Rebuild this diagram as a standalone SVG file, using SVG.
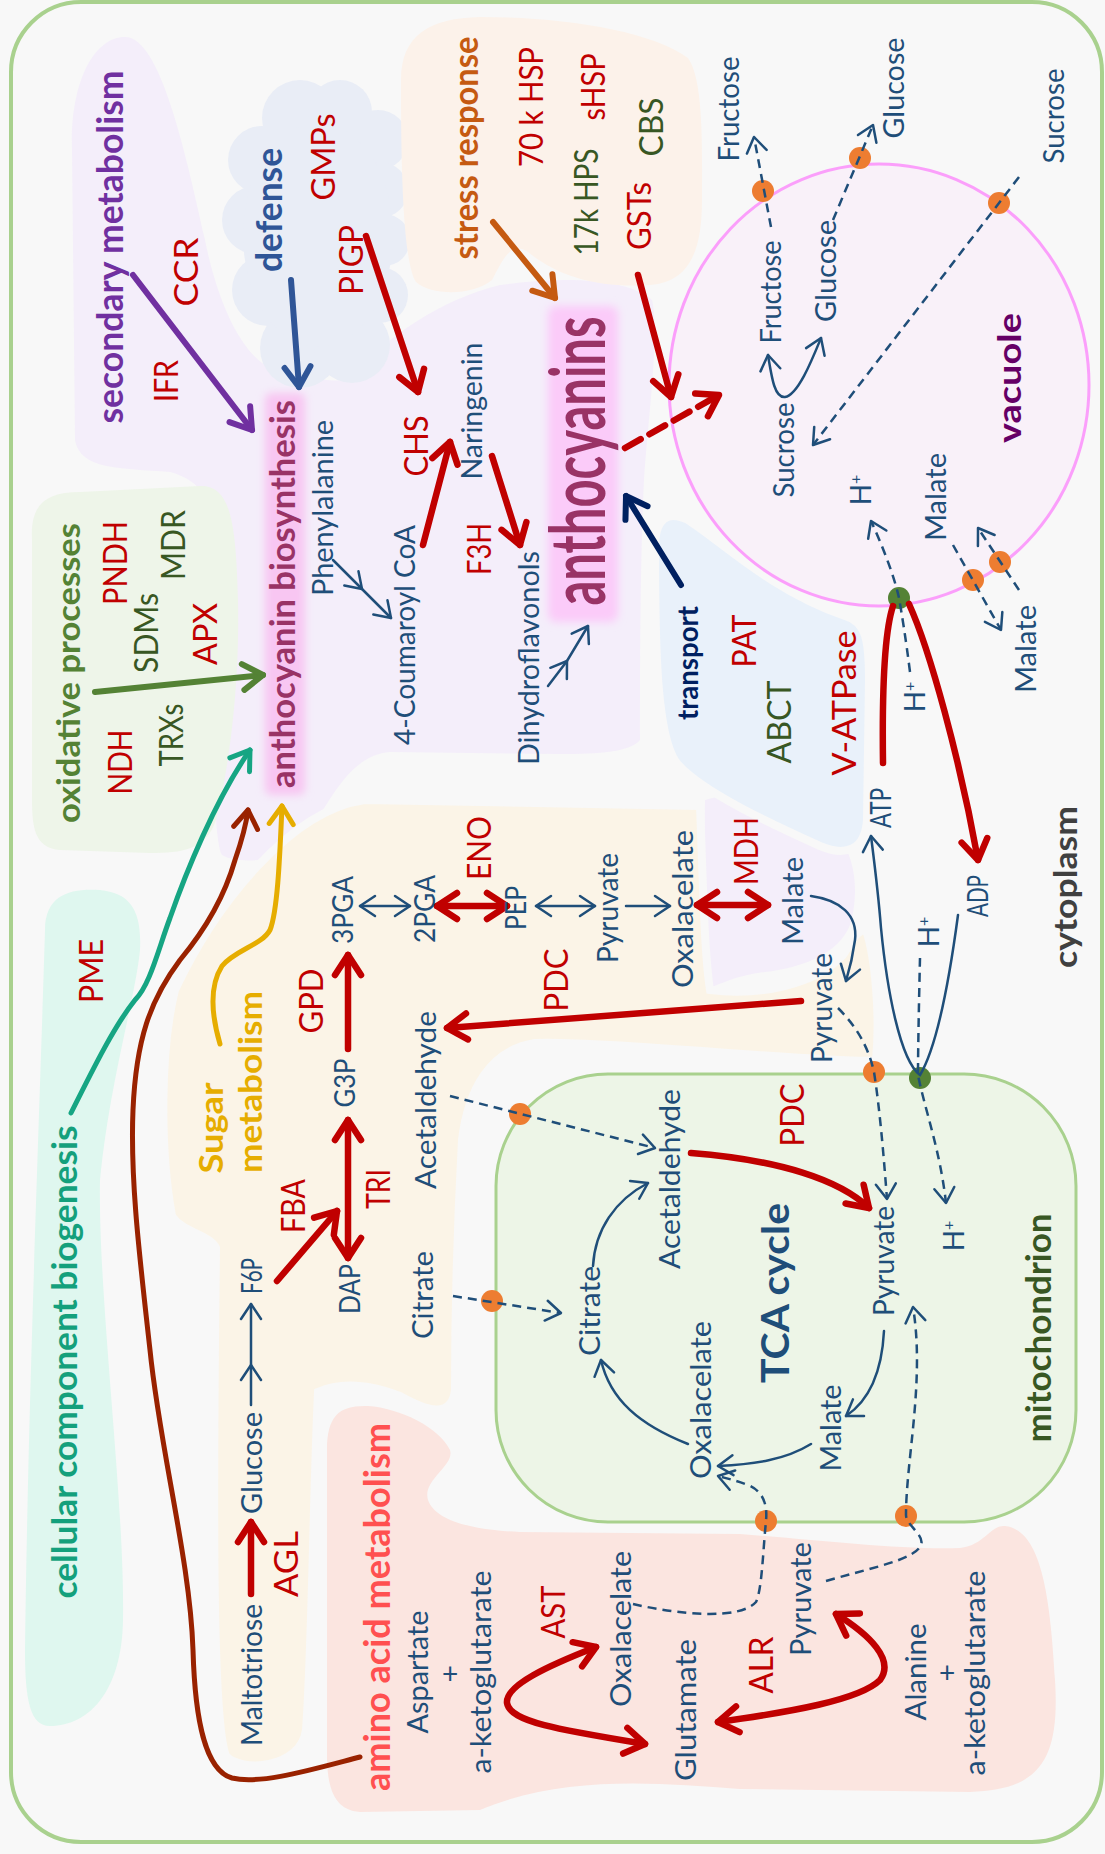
<svg xmlns="http://www.w3.org/2000/svg" width="1105" height="1854" viewBox="0 0 1105 1854">
<defs>
<style>
.t{font-family:Lato,'Liberation Sans','DejaVu Sans',sans-serif;text-anchor:middle}
.lb{fill:#1f4e79;font-size:28px}
.rd{fill:#c00000;font-size:32px}
.gr{fill:#385723;font-size:32px}
.bd{font-weight:700}
.cb{fill:none;stroke:#1f4e79;stroke-width:2.5;stroke-linecap:round}
.cd{fill:none;stroke:#1f4e79;stroke-width:2.5;stroke-dasharray:9 6}
.cr{fill:none;stroke:#c00000;stroke-width:6.5;stroke-linecap:round}
.gap{stroke:#f8f8f8;stroke-width:8}
</style>
<filter id="glow" x="-30%" y="-10%" width="160%" height="120%"><feGaussianBlur stdDeviation="4"/></filter>
<marker id="mR" viewBox="-28 -20 34 40" refX="0" refY="0" markerWidth="34" markerHeight="40" markerUnits="userSpaceOnUse" orient="auto-start-reverse"><path d="M-20 -13 L0 0 L-20 13" fill="none" stroke="#c00000" stroke-width="6.5" stroke-linecap="round" stroke-linejoin="round"/></marker>
<marker id="mP" viewBox="-28 -20 34 40" refX="0" refY="0" markerWidth="34" markerHeight="40" markerUnits="userSpaceOnUse" orient="auto-start-reverse"><path d="M-20 -13 L0 0 L-20 13" fill="none" stroke="#7030a0" stroke-width="6" stroke-linecap="round" stroke-linejoin="round"/></marker>
<marker id="mN" viewBox="-28 -20 34 40" refX="0" refY="0" markerWidth="34" markerHeight="40" markerUnits="userSpaceOnUse" orient="auto-start-reverse"><path d="M-20 -13 L0 0 L-20 13" fill="none" stroke="#002060" stroke-width="6" stroke-linecap="round" stroke-linejoin="round"/></marker>
<marker id="mD" viewBox="-28 -20 34 40" refX="0" refY="0" markerWidth="34" markerHeight="40" markerUnits="userSpaceOnUse" orient="auto-start-reverse"><path d="M-20 -13 L0 0 L-20 13" fill="none" stroke="#2f5597" stroke-width="6" stroke-linecap="round" stroke-linejoin="round"/></marker>
<marker id="mG" viewBox="-28 -20 34 40" refX="0" refY="0" markerWidth="34" markerHeight="40" markerUnits="userSpaceOnUse" orient="auto-start-reverse"><path d="M-20 -13 L0 0 L-20 13" fill="none" stroke="#548235" stroke-width="6" stroke-linecap="round" stroke-linejoin="round"/></marker>
<marker id="mO" viewBox="-28 -20 34 40" refX="0" refY="0" markerWidth="34" markerHeight="40" markerUnits="userSpaceOnUse" orient="auto-start-reverse"><path d="M-20 -13 L0 0 L-20 13" fill="none" stroke="#c55a11" stroke-width="6" stroke-linecap="round" stroke-linejoin="round"/></marker>
<marker id="mT" viewBox="-28 -20 34 40" refX="0" refY="0" markerWidth="34" markerHeight="40" markerUnits="userSpaceOnUse" orient="auto-start-reverse"><path d="M-18 -12 L0 0 L-18 12" fill="none" stroke="#16a583" stroke-width="5" stroke-linecap="round" stroke-linejoin="round"/></marker>
<marker id="mBr" viewBox="-28 -20 34 40" refX="0" refY="0" markerWidth="34" markerHeight="40" markerUnits="userSpaceOnUse" orient="auto-start-reverse"><path d="M-18 -12 L0 0 L-18 12" fill="none" stroke="#992200" stroke-width="5" stroke-linecap="round" stroke-linejoin="round"/></marker>
<marker id="mY" viewBox="-28 -20 34 40" refX="0" refY="0" markerWidth="34" markerHeight="40" markerUnits="userSpaceOnUse" orient="auto-start-reverse"><path d="M-18 -12 L0 0 L-18 12" fill="none" stroke="#e6ad00" stroke-width="5" stroke-linecap="round" stroke-linejoin="round"/></marker>
<marker id="mB" viewBox="-20 -14 24 28" refX="0" refY="0" markerWidth="24" markerHeight="28" markerUnits="userSpaceOnUse" orient="auto-start-reverse"><path d="M-15 -10 L0 0 L-15 10" fill="none" stroke="#1f4e79" stroke-width="2.5" stroke-linecap="round" stroke-linejoin="round"/></marker>
</defs>

<rect width="1105" height="1854" fill="#f8f8f8"/>
<rect x="11" y="2" width="1091" height="1840" rx="70" fill="#f8f8f8" stroke="#a9d18e" stroke-width="4"/>

<g id="regions">
<path d="M72 150 C70 80 95 37 125 37 C160 37 185 150 205 240 C215 290 235 345 265 365 C300 378 330 382 345 380 C390 335 440 300 500 285 C570 275 630 280 652 300 C660 330 648 420 644 480 C640 560 640 680 640 740 C630 752 600 754 560 754 L390 752 C350 755 330 800 305 840 C290 860 240 866 222 855 C212 840 212 700 215 550 C216 500 200 480 170 472 C120 468 80 470 75 440 Z" fill="#f4eefa"/>
<path d="M705 800 C740 788 800 808 838 838 C858 858 858 900 850 925 C838 955 800 968 765 972 C738 975 718 985 710 988 C705 930 704 860 705 800 Z" fill="#f4eefa"/>
<g id="cloud" fill="#e9edf6">
<circle cx="300" cy="118" r="38"/><circle cx="340" cy="112" r="32"/><circle cx="378" cy="140" r="30"/>
<circle cx="262" cy="160" r="34"/><circle cx="256" cy="220" r="34"/><circle cx="268" cy="290" r="36"/>
<circle cx="300" cy="348" r="40"/><circle cx="352" cy="345" r="38"/><circle cx="380" cy="295" r="28"/>
<circle cx="384" cy="240" r="26"/><circle cx="380" cy="190" r="28"/>
<ellipse cx="318" cy="235" rx="75" ry="112"/>
</g>
<path d="M401 80 C401 35 430 18 480 17 C560 17 650 30 688 58 C704 80 702 150 702 200 C702 250 690 282 650 285 C600 288 560 278 528 252 C510 240 502 262 492 280 C472 296 432 296 416 282 C402 262 401 150 401 80 Z" fill="#fcf2ea"/>
<path d="M32 540 C30 505 45 492 80 492 L200 486 C230 485 236 520 238 600 C240 700 226 780 216 820 C206 850 182 853 150 853 L60 850 C36 848 32 830 32 800 Z" fill="#eef5e9"/>
<path d="M45 930 C45 895 70 888 100 890 C130 893 142 910 140 950 C135 1000 110 1080 100 1180 C98 1300 125 1500 123 1620 C122 1690 90 1726 50 1726 C30 1726 25 1700 25 1650 C28 1400 40 1100 45 930 Z" fill="#dff7ef"/>
<path class="gap" d="M175 990 C215 905 290 810 365 800 L700 806 C703 880 704 950 710 990 C760 996 815 985 843 955 C852 942 856 930 866 930 C876 960 880 1020 876 1060 C860 1066 600 1040 535 1043 C490 1050 468 1090 462 1140 C456 1250 455 1350 455 1390 C452 1420 425 1410 400 1396 C370 1384 340 1382 318 1392 C313 1500 312 1650 306 1730 C300 1770 240 1772 226 1756 C212 1720 213 1500 216 1248 C210 1235 182 1232 172 1216 C160 1150 160 1050 175 990 Z" fill="#fbf4e7"/>
<path class="gap" d="M655 548 C655 518 668 510 688 520 C720 540 770 590 845 616 C866 622 869 640 869 680 L867 820 C865 850 846 857 820 846 C780 828 700 792 676 762 C657 735 655 650 655 548 Z" fill="#e9f1fa"/>
<path d="M327 1450 C327 1415 340 1405 368 1406 C400 1408 440 1428 450 1450 C455 1466 422 1480 428 1500 C435 1520 470 1530 520 1532 L740 1534 C820 1540 900 1550 960 1548 C985 1545 990 1525 1005 1526 C1040 1530 1050 1590 1055 1680 C1060 1760 1040 1790 970 1792 L740 1789 C650 1782 560 1776 480 1810 L360 1812 C335 1810 328 1790 327 1760 Z" fill="#fbe5e0"/>
<ellipse id="vacuole-membrane" cx="879" cy="385" rx="210" ry="221" fill="#f9f1f9" stroke="#fb9ffb" stroke-width="3"/>
<rect id="mito-membrane" x="496" y="1074" width="580" height="448" rx="112" fill="#edf5e7" stroke="#a9d18e" stroke-width="3"/>
<rect x="265" y="393" width="40" height="402" rx="6" fill="#f8c6f2" filter="url(#glow)"/>
<rect x="548" y="306" width="70" height="316" rx="8" fill="#fbcbf9" filter="url(#glow)"/>
</g>

<g id="transporters">
<circle cx="763" cy="191" r="11" fill="#ed7d31"/>
<circle cx="860" cy="158" r="11" fill="#ed7d31"/>
<circle cx="999" cy="203" r="11" fill="#ed7d31"/>
<circle cx="973" cy="580" r="11" fill="#ed7d31"/>
<circle cx="1000" cy="562" r="11" fill="#ed7d31"/>
<circle cx="520" cy="1114" r="11" fill="#ed7d31"/>
<circle cx="492" cy="1301" r="11" fill="#ed7d31"/>
<circle cx="874" cy="1072" r="11" fill="#ed7d31"/>
<circle cx="766" cy="1521" r="11" fill="#ed7d31"/>
<circle cx="906" cy="1516" r="11" fill="#ed7d31"/>
<circle cx="899" cy="598" r="11" fill="#548235"/>
<circle cx="920" cy="1078" r="11" fill="#548235"/>
</g>

<g id="connectors">
<!-- red enzyme arrows -->
<path class="cr" d="M366 236 L418 392" marker-end="url(#mR)"/>
<path class="cr" d="M423 545 L450 442" marker-end="url(#mR)"/>
<path class="cr" d="M492 456 L520 545" marker-end="url(#mR)"/>
<path class="cr" d="M638 275 L671 397" marker-end="url(#mR)"/>
<path class="cr" d="M625 448 L719 395" stroke-dasharray="18 10" stroke-linecap="butt" marker-end="url(#mR)"/>
<path class="cr" d="M437 906 L507 906" marker-start="url(#mR)" marker-end="url(#mR)"/>
<path class="cr" d="M697 905 L768 905" marker-start="url(#mR)" marker-end="url(#mR)"/>
<path class="cr" d="M348 1049 L348 955" marker-end="url(#mR)"/>
<path class="cr" d="M348 1258 L348 1120" marker-start="url(#mR)" marker-end="url(#mR)"/>
<path class="cr" d="M277 1281 L337 1211" marker-end="url(#mR)"/>
<path class="cr" d="M801 1001 L447 1028" marker-end="url(#mR)"/>
<path class="cr" d="M691 1153 C780 1160 840 1180 869 1208" marker-end="url(#mR)"/>
<path class="cr" d="M251 1594 L251 1522" marker-end="url(#mR)"/>
<path class="cr" d="M596 1647 C550 1665 505 1685 507 1703 C510 1722 560 1730 645 1744" marker-start="url(#mR)" marker-end="url(#mR)"/>
<path class="cr" d="M718 1722 C790 1712 860 1700 880 1680 C895 1660 870 1635 836 1614" marker-start="url(#mR)" marker-end="url(#mR)"/>
<path class="cr" d="M883 763 C882 690 885 630 893 606"/>
<path class="cr" d="M909 604 C930 650 960 760 978 860" marker-end="url(#mR)"/>
<!-- category arrows -->
<path d="M493 222 L555 298" fill="none" stroke="#c55a11" stroke-width="6" stroke-linecap="round" marker-end="url(#mO)"/>
<path d="M291 280 L299 387" fill="none" stroke="#2f5597" stroke-width="6" stroke-linecap="round" marker-end="url(#mD)"/>
<path d="M133 275 L252 430" fill="none" stroke="#7030a0" stroke-width="6" stroke-linecap="round" marker-end="url(#mP)"/>
<path d="M95 692 L263 675" fill="none" stroke="#548235" stroke-width="6" stroke-linecap="round" marker-end="url(#mG)"/>
<path d="M681 585 L626 496" fill="none" stroke="#002060" stroke-width="6" stroke-linecap="round" marker-end="url(#mN)"/>
<path d="M71 1113 C95 1065 115 1025 135 1000 C150 985 158 950 170 918 C185 875 215 800 250 750" fill="none" stroke="#16a583" stroke-width="5" stroke-linecap="round" marker-end="url(#mT)"/>
<path d="M360 1757 C310 1770 260 1785 232 1778 C205 1770 195 1720 193 1650 C190 1560 160 1450 150 1350 C140 1260 130 1180 133 1110 C136 1040 150 1000 180 960 C205 930 225 895 235 860 C242 840 246 825 248 810" fill="none" stroke="#992200" stroke-width="5" stroke-linecap="round" marker-end="url(#mBr)"/>
<path d="M220 1044 C210 1010 210 985 222 966 C235 950 262 945 270 930 C278 910 280 850 282 806" fill="none" stroke="#e6ad00" stroke-width="5" stroke-linecap="round" marker-end="url(#mY)"/>
<!-- blue solid -->
<path class="cb" d="M333 560 L362 589 L391 618" marker-mid="url(#mB)" marker-end="url(#mB)"/>
<path class="cb" d="M548 686 L567 661 L588 626" marker-mid="url(#mB)" marker-end="url(#mB)"/>
<path class="cb" d="M360 906 L410 906" marker-start="url(#mB)" marker-end="url(#mB)"/>
<path class="cb" d="M536 906 L595 906" marker-start="url(#mB)" marker-end="url(#mB)"/>
<path class="cb" d="M626 906 L670 906" marker-end="url(#mB)"/>
<path class="cb" d="M251 1405 L251 1365 L251 1304" marker-mid="url(#mB)" marker-end="url(#mB)"/>
<path class="cb" d="M811 896 C840 900 858 915 855 940 C853 955 850 968 846 981" marker-end="url(#mB)"/>
<path class="cb" d="M958 915 C948 990 935 1050 920 1075 C900 1060 887 990 881 928 C878 890 874 860 871 836" marker-end="url(#mB)"/>
<path class="cb" d="M593 1266 C595 1230 615 1200 648 1183" marker-end="url(#mB)"/>
<path class="cb" d="M688 1444 C640 1425 610 1400 601 1360" marker-end="url(#mB)"/>
<path class="cb" d="M884 1331 C882 1370 870 1400 846 1416" marker-end="url(#mB)"/>
<path class="cb" d="M811 1444 C785 1460 755 1464 718 1466" marker-end="url(#mB)"/>
<path class="cb" d="M768 355 C772 380 775 398 785 397 C798 395 812 360 821 338" marker-start="url(#mB)" marker-end="url(#mB)"/>
<!-- blue dashed -->
<path class="cd" d="M771 227 L754 137" marker-end="url(#mB)"/>
<path class="cd" d="M833 220 L873 125" marker-end="url(#mB)"/>
<path class="cd" d="M1019 177 L813 445" marker-end="url(#mB)"/>
<path class="cd" d="M910 672 C906 640 902 615 899 598 C894 575 882 545 871 521" marker-end="url(#mB)"/>
<path class="cd" d="M1019 590 L978 528" marker-end="url(#mB)"/>
<path class="cd" d="M953 545 L1001 630" marker-end="url(#mB)"/>
<path class="cd" d="M450 1096 L655 1148" marker-end="url(#mB)"/>
<path class="cd" d="M453 1296 L561 1313" marker-end="url(#mB)"/>
<path class="cd" d="M838 1008 C855 1025 868 1045 874 1072 C880 1110 884 1160 887 1199" marker-end="url(#mB)"/>
<path class="cd" d="M920 958 C919 1000 918 1050 918 1075 C925 1110 940 1150 946 1203" marker-end="url(#mB)"/>
<path class="cd" d="M826 1581 C870 1568 915 1560 921 1545 C925 1535 906 1525 906 1515 C906 1460 925 1380 913 1307" marker-end="url(#mB)"/>
<path class="cd" d="M633 1604 C680 1615 740 1620 756 1602 C762 1590 763 1550 766 1521 C768 1500 760 1490 748 1485 C735 1480 725 1478 718 1476" marker-end="url(#mB)"/>
</g>

<!-- bold titles -->
<g id="n-secondary"><text class="t bd" fill="#7030a0" font-size="36" transform="translate(123 247) rotate(-90)" textLength="353" lengthAdjust="spacingAndGlyphs">secondary metabolism</text></g>
<g id="n-defense"><text class="t bd" fill="#2f5597" font-size="36" transform="translate(282 210) rotate(-90)" textLength="124" lengthAdjust="spacingAndGlyphs">defense</text></g>
<g id="n-stress"><text class="t bd" fill="#c55a11" font-size="34" transform="translate(478 148) rotate(-90)" textLength="223" lengthAdjust="spacingAndGlyphs">stress response</text></g>
<g id="n-oxidative"><text class="t bd" fill="#548235" font-size="32" transform="translate(80 673) rotate(-90)" textLength="300" lengthAdjust="spacingAndGlyphs">oxidative processes</text></g>
<g id="n-anthobio"><text class="t bd" fill="#993366" font-size="34" transform="translate(295 594) rotate(-90)" textLength="388" lengthAdjust="spacingAndGlyphs">anthocyanin biosynthesis</text></g>
<g id="n-anthocyanins"><text class="t bd" fill="#993366" font-size="76" transform="translate(605 461) rotate(-90)" textLength="289" lengthAdjust="spacingAndGlyphs">anthocyanins</text></g>
<g id="n-transport"><text class="t bd" fill="#002060" font-size="29" transform="translate(698 663) rotate(-90)" textLength="114" lengthAdjust="spacingAndGlyphs">transport</text></g>
<g id="n-vacuole"><text class="t bd" fill="#660066" font-size="32" transform="translate(1021 378) rotate(-90)" textLength="130" lengthAdjust="spacingAndGlyphs">vacuole</text></g>
<g id="n-cytoplasm"><text class="t bd" fill="#404040" font-size="33" transform="translate(1077 887) rotate(-90)" textLength="162" lengthAdjust="spacingAndGlyphs">cytoplasm</text></g>
<g id="n-tca"><text class="t bd" fill="#1f4e79" font-size="38" transform="translate(789 1293) rotate(-90)" textLength="180" lengthAdjust="spacingAndGlyphs">TCA cycle</text></g>
<g id="n-mito"><text class="t bd" fill="#385723" font-size="34" transform="translate(1051 1328) rotate(-90)" textLength="229" lengthAdjust="spacingAndGlyphs">mitochondrion</text></g>
<g id="n-sugar"><text class="t bd" fill="#e6ad00" font-size="33" transform="translate(223 1128) rotate(-90)" textLength="91" lengthAdjust="spacingAndGlyphs">Sugar</text><text class="t bd" fill="#e6ad00" font-size="32" transform="translate(262 1082) rotate(-90)" textLength="182" lengthAdjust="spacingAndGlyphs">metabolism</text></g>
<g id="n-cellular"><text class="t bd" fill="#14a07c" font-size="35" transform="translate(77 1362) rotate(-90)" textLength="473" lengthAdjust="spacingAndGlyphs">cellular component biogenesis</text></g>
<g id="n-amino"><text class="t bd" fill="#ff5050" font-size="36" transform="translate(390 1607) rotate(-90)" textLength="368" lengthAdjust="spacingAndGlyphs">amino acid metabolism</text></g>

<!-- red enzyme labels -->
<g id="n-ifr"><text class="t rd" transform="translate(178 381) rotate(-90)" textLength="42" lengthAdjust="spacingAndGlyphs">IFR</text></g>
<g id="n-ccr"><text class="t rd" transform="translate(198 272) rotate(-90)" textLength="69" lengthAdjust="spacingAndGlyphs">CCR</text></g>
<g id="n-gmps"><text class="t rd" transform="translate(335 157) rotate(-90)" textLength="87" lengthAdjust="spacingAndGlyphs">GMPs</text></g>
<g id="n-pigp"><text class="t rd" transform="translate(363 260) rotate(-90)" textLength="70" lengthAdjust="spacingAndGlyphs">PIGP</text></g>
<g id="n-hsp70"><text class="t rd" transform="translate(543 107) rotate(-90)" textLength="120" lengthAdjust="spacingAndGlyphs">70 k HSP</text></g>
<g id="n-shsp"><text class="t rd" transform="translate(605 87) rotate(-90)" textLength="67" lengthAdjust="spacingAndGlyphs">sHSP</text></g>
<g id="n-gsts"><text class="t rd" transform="translate(651 216) rotate(-90)" textLength="68" lengthAdjust="spacingAndGlyphs">GSTs</text></g>
<g id="n-chs"><text class="t rd" transform="translate(428 446) rotate(-90)" textLength="61" lengthAdjust="spacingAndGlyphs">CHS</text></g>
<g id="n-f3h"><text class="t rd" transform="translate(491 549) rotate(-90)" textLength="52" lengthAdjust="spacingAndGlyphs">F3H</text></g>
<g id="n-ndh"><text class="t rd" transform="translate(132 762) rotate(-90)" textLength="65" lengthAdjust="spacingAndGlyphs">NDH</text></g>
<g id="n-pndh"><text class="t rd" transform="translate(127 563) rotate(-90)" textLength="84" lengthAdjust="spacingAndGlyphs">PNDH</text></g>
<g id="n-apx"><text class="t rd" transform="translate(217 634) rotate(-90)" textLength="62" lengthAdjust="spacingAndGlyphs">APX</text></g>
<g id="n-pat"><text class="t rd" transform="translate(756 641) rotate(-90)" textLength="53" lengthAdjust="spacingAndGlyphs">PAT</text></g>
<g id="n-vatpase"><text class="t rd" transform="translate(856 703) rotate(-90)" textLength="145" lengthAdjust="spacingAndGlyphs">V-ATPase</text></g>
<g id="n-mdh"><text class="t rd" transform="translate(758 851) rotate(-90)" textLength="68" lengthAdjust="spacingAndGlyphs">MDH</text></g>
<g id="n-eno"><text class="t rd" transform="translate(491 848) rotate(-90)" textLength="64" lengthAdjust="spacingAndGlyphs">ENO</text></g>
<g id="n-pdc1"><text class="t rd" transform="translate(568 980) rotate(-90)" textLength="63" lengthAdjust="spacingAndGlyphs">PDC</text></g>
<g id="n-gpd"><text class="t rd" transform="translate(323 1001) rotate(-90)" textLength="65" lengthAdjust="spacingAndGlyphs">GPD</text></g>
<g id="n-fba"><text class="t rd" transform="translate(305 1206) rotate(-90)" textLength="54" lengthAdjust="spacingAndGlyphs">FBA</text></g>
<g id="n-tri"><text class="t rd" transform="translate(390 1189) rotate(-90)" textLength="40" lengthAdjust="spacingAndGlyphs">TRI</text></g>
<g id="n-pdc2"><text class="t rd" transform="translate(804 1115) rotate(-90)" textLength="63" lengthAdjust="spacingAndGlyphs">PDC</text></g>
<g id="n-pme"><text class="t rd" transform="translate(103 971) rotate(-90)" textLength="64" lengthAdjust="spacingAndGlyphs">PME</text></g>
<g id="n-agl"><text class="t rd" transform="translate(298 1564) rotate(-90)" textLength="66" lengthAdjust="spacingAndGlyphs">AGL</text></g>
<g id="n-ast"><text class="t rd" transform="translate(565 1612) rotate(-90)" textLength="53" lengthAdjust="spacingAndGlyphs">AST</text></g>
<g id="n-alr"><text class="t rd" transform="translate(773 1665) rotate(-90)" textLength="57" lengthAdjust="spacingAndGlyphs">ALR</text></g>

<!-- green protein labels -->
<g id="n-hps17"><text class="t gr" transform="translate(598 202) rotate(-90)" textLength="107" lengthAdjust="spacingAndGlyphs">17k HPS</text></g>
<g id="n-cbs"><text class="t gr" transform="translate(663 127) rotate(-90)" textLength="59" lengthAdjust="spacingAndGlyphs">CBS</text></g>
<g id="n-trxs"><text class="t gr" transform="translate(183 735) rotate(-90)" textLength="63" lengthAdjust="spacingAndGlyphs">TRXs</text></g>
<g id="n-sdms"><text class="t gr" transform="translate(158 633) rotate(-90)" textLength="80" lengthAdjust="spacingAndGlyphs">SDMs</text></g>
<g id="n-mdr"><text class="t gr" transform="translate(185 545) rotate(-90)" textLength="70" lengthAdjust="spacingAndGlyphs">MDR</text></g>
<g id="n-abct"><text class="t gr" transform="translate(791 722) rotate(-90)" textLength="83" lengthAdjust="spacingAndGlyphs">ABCT</text></g>

<!-- metabolites -->
<g id="n-fructose-top"><text class="t lb" transform="translate(739 109) rotate(-90)" textLength="105" lengthAdjust="spacingAndGlyphs">Fructose</text></g>
<g id="n-glucose-top"><text class="t lb" transform="translate(904 88) rotate(-90)" textLength="101" lengthAdjust="spacingAndGlyphs">Glucose</text></g>
<g id="n-sucrose-top"><text class="t lb" transform="translate(1064 116) rotate(-90)" textLength="95" lengthAdjust="spacingAndGlyphs">Sucrose</text></g>
<g id="n-fructose-vac"><text class="t lb" transform="translate(781 292) rotate(-90)" textLength="103" lengthAdjust="spacingAndGlyphs">Fructose</text></g>
<g id="n-glucose-vac"><text class="t lb" transform="translate(836 271) rotate(-90)" textLength="102" lengthAdjust="spacingAndGlyphs">Glucose</text></g>
<g id="n-sucrose-vac"><text class="t lb" transform="translate(794 450) rotate(-90)" textLength="95" lengthAdjust="spacingAndGlyphs">Sucrose</text></g>
<g id="n-hplus-vac"><text class="t lb" font-size="25" transform="translate(871 490) rotate(-90)">H<tspan font-size="16" dy="-10">+</tspan></text></g>
<g id="n-malate-vac"><text class="t lb" transform="translate(946 497) rotate(-90)" textLength="88" lengthAdjust="spacingAndGlyphs">Malate</text></g>
<g id="n-malate-out"><text class="t lb" transform="translate(1036 649) rotate(-90)" textLength="88" lengthAdjust="spacingAndGlyphs">Malate</text></g>
<g id="n-hplus-cyt1"><text class="t lb" font-size="25" transform="translate(925 697) rotate(-90)">H<tspan font-size="16" dy="-10">+</tspan></text></g>
<g id="n-atp"><text class="t lb" font-size="24" transform="translate(891 808) rotate(-90)" textLength="40" lengthAdjust="spacingAndGlyphs">ATP</text></g>
<g id="n-adp"><text class="t lb" font-size="25" transform="translate(988 896) rotate(-90)" textLength="42" lengthAdjust="spacingAndGlyphs">ADP</text></g>
<g id="n-malate-cyt"><text class="t lb" transform="translate(803 901) rotate(-90)" textLength="88" lengthAdjust="spacingAndGlyphs">Malate</text></g>
<g id="n-phenylalanine"><text class="t lb" transform="translate(333 508) rotate(-90)" textLength="176" lengthAdjust="spacingAndGlyphs">Phenylalanine</text></g>
<g id="n-coumaroyl"><text class="t lb" transform="translate(415 635) rotate(-90)" textLength="220" lengthAdjust="spacingAndGlyphs">4-Coumaroyl CoA</text></g>
<g id="n-naringenin"><text class="t lb" transform="translate(482 411) rotate(-90)" textLength="137" lengthAdjust="spacingAndGlyphs">Naringenin</text></g>
<g id="n-dihydroflavonols"><text class="t lb" transform="translate(539 658) rotate(-90)" textLength="214" lengthAdjust="spacingAndGlyphs">Dihydroflavonols</text></g>
<g id="n-3pga"><text class="t lb" font-size="27" transform="translate(353 910) rotate(-90)" textLength="68" lengthAdjust="spacingAndGlyphs">3PGA</text></g>
<g id="n-2pga"><text class="t lb" font-size="26" transform="translate(435 909) rotate(-90)" textLength="68" lengthAdjust="spacingAndGlyphs">2PGA</text></g>
<g id="n-pep"><text class="t lb" font-size="25" transform="translate(526 908) rotate(-90)" textLength="44" lengthAdjust="spacingAndGlyphs">PEP</text></g>
<g id="n-pyruvate-c1"><text class="t lb" transform="translate(618 908) rotate(-90)" textLength="110" lengthAdjust="spacingAndGlyphs">Pyruvate</text></g>
<g id="n-oxal-c"><text class="t lb" transform="translate(693 909) rotate(-90)" textLength="158" lengthAdjust="spacingAndGlyphs">Oxalacelate</text></g>
<g id="n-pyruvate-c2"><text class="t lb" transform="translate(832 1008) rotate(-90)" textLength="110" lengthAdjust="spacingAndGlyphs">Pyruvate</text></g>
<g id="n-acet-c"><text class="t lb" transform="translate(436 1100) rotate(-90)" textLength="178" lengthAdjust="spacingAndGlyphs">Acetaldehyde</text></g>
<g id="n-citrate-c"><text class="t lb" transform="translate(433 1295) rotate(-90)" textLength="88" lengthAdjust="spacingAndGlyphs">Citrate</text></g>
<g id="n-g3p"><text class="t lb" font-size="26" transform="translate(355 1083) rotate(-90)" textLength="49" lengthAdjust="spacingAndGlyphs">G3P</text></g>
<g id="n-dap"><text class="t lb" font-size="27" transform="translate(360 1289) rotate(-90)" textLength="50" lengthAdjust="spacingAndGlyphs">DAP</text></g>
<g id="n-f6p"><text class="t lb" font-size="27" transform="translate(262 1276) rotate(-90)" textLength="36" lengthAdjust="spacingAndGlyphs">F6P</text></g>
<g id="n-glucose-s"><text class="t lb" transform="translate(262 1463) rotate(-90)" textLength="102" lengthAdjust="spacingAndGlyphs">Glucose</text></g>
<g id="n-maltotriose"><text class="t lb" transform="translate(262 1675) rotate(-90)" textLength="142" lengthAdjust="spacingAndGlyphs">Maltotriose</text></g>
<g id="n-acet-m"><text class="t lb" transform="translate(680 1179) rotate(-90)" textLength="180" lengthAdjust="spacingAndGlyphs">Acetaldehyde</text></g>
<g id="n-citrate-m"><text class="t lb" transform="translate(600 1311) rotate(-90)" textLength="90" lengthAdjust="spacingAndGlyphs">Citrate</text></g>
<g id="n-pyruvate-m"><text class="t lb" transform="translate(894 1261) rotate(-90)" textLength="110" lengthAdjust="spacingAndGlyphs">Pyruvate</text></g>
<g id="n-hplus-m"><text class="t lb" font-size="25" transform="translate(964 1236) rotate(-90)">H<tspan font-size="16" dy="-10">+</tspan></text></g>
<g id="n-hplus-cyt2"><text class="t lb" font-size="25" transform="translate(939 932) rotate(-90)">H<tspan font-size="16" dy="-10">+</tspan></text></g>
<g id="n-oxal-m"><text class="t lb" transform="translate(711 1400) rotate(-90)" textLength="158" lengthAdjust="spacingAndGlyphs">Oxalacelate</text></g>
<g id="n-malate-m"><text class="t lb" transform="translate(841 1428) rotate(-90)" textLength="87" lengthAdjust="spacingAndGlyphs">Malate</text></g>
<g id="n-aspartate"><text class="t lb" transform="translate(428 1672) rotate(-90)" textLength="123" lengthAdjust="spacingAndGlyphs">Aspartate</text></g>
<g id="n-plus1"><text class="t lb" x="450" y="1684">+</text></g>
<g id="n-aket1"><text class="t lb" transform="translate(491 1672) rotate(-90)" textLength="203" lengthAdjust="spacingAndGlyphs">a-ketoglutarate</text></g>
<g id="n-oxal-a"><text class="t lb" transform="translate(631 1629) rotate(-90)" textLength="156" lengthAdjust="spacingAndGlyphs">Oxalacelate</text></g>
<g id="n-glutamate"><text class="t lb" transform="translate(696 1710) rotate(-90)" textLength="142" lengthAdjust="spacingAndGlyphs">Glutamate</text></g>
<g id="n-pyruvate-a"><text class="t lb" transform="translate(811 1599) rotate(-90)" textLength="114" lengthAdjust="spacingAndGlyphs">Pyruvate</text></g>
<g id="n-alanine"><text class="t lb" transform="translate(926 1672) rotate(-90)" textLength="97" lengthAdjust="spacingAndGlyphs">Alanine</text></g>
<g id="n-plus2"><text class="t lb" x="947" y="1683">+</text></g>
<g id="n-aket2"><text class="t lb" transform="translate(985 1673) rotate(-90)" textLength="205" lengthAdjust="spacingAndGlyphs">a-ketoglutarate</text></g>
</svg>
